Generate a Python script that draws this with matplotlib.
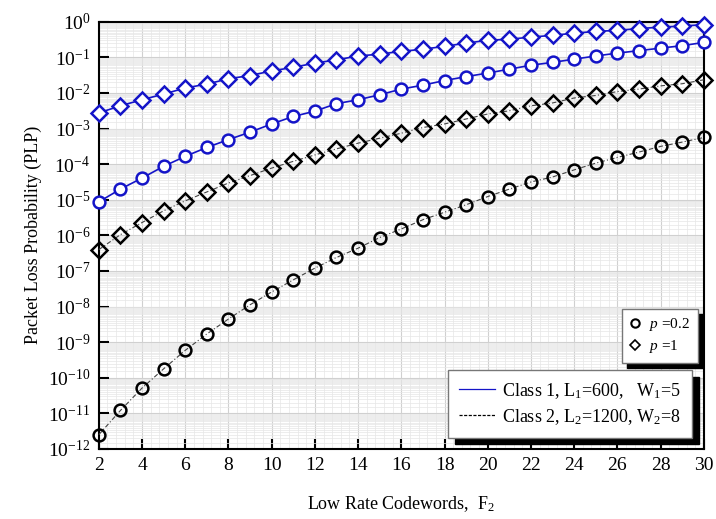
import matplotlib
matplotlib.use("Agg")
import matplotlib.pyplot as plt
from matplotlib.lines import Line2D
import numpy as np

plt.rcParams['font.family'] = ['Liberation Serif', 'DejaVu Serif']
plt.rcParams['mathtext.fontset'] = 'custom'
plt.rcParams['mathtext.rm'] = 'Liberation Serif'
plt.rcParams['mathtext.it'] = 'Liberation Serif:italic'
plt.rcParams['axes.unicode_minus'] = False

# low rate codewords F2
F2 = np.arange(2, 31)

# log10 of PLP
class1_p1 = [-2.56, -2.36, -2.19, -2.03, -1.86, -1.75, -1.60, -1.51, -1.38, -1.28,
             -1.16, -1.07, -0.96, -0.91, -0.83, -0.77, -0.69, -0.60, -0.52, -0.49,
             -0.43, -0.38, -0.32, -0.27, -0.24, -0.19, -0.15, -0.12, -0.08]
class1_p02 = [-5.06, -4.70, -4.39, -4.06, -3.78, -3.53, -3.31, -3.10, -2.87, -2.66,
              -2.51, -2.30, -2.19, -2.05, -1.89, -1.78, -1.65, -1.54, -1.44, -1.33,
              -1.22, -1.14, -1.05, -0.96, -0.88, -0.81, -0.74, -0.67, -0.58]
class2_p1 = [-6.40, -5.98, -5.64, -5.31, -5.03, -4.78, -4.53, -4.32, -4.11, -3.92,
             -3.74, -3.57, -3.41, -3.27, -3.13, -2.97, -2.87, -2.73, -2.59, -2.50,
             -2.36, -2.28, -2.14, -2.07, -1.96, -1.89, -1.80, -1.74, -1.63]
class2_p02 = [-11.60, -10.92, -10.29, -9.75, -9.23, -8.77, -8.35, -7.95, -7.59, -7.25,
              -6.92, -6.62, -6.36, -6.06, -5.82, -5.56, -5.35, -5.14, -4.91, -4.70,
              -4.50, -4.36, -4.16, -3.97, -3.81, -3.66, -3.50, -3.38, -3.25]

blue = '#1414c8'

fig = plt.figure(figsize=(7.16, 5.19), dpi=100)
ax = fig.add_axes([0.138, 0.135, 0.845, 0.823])

# class 1 (blue, solid)
ax.plot(F2, 10**np.array(class1_p1), '-', color=blue, lw=1.2, marker='D', ms=8,
        mfc='white', mec=blue, mew=1.8, clip_on=False, zorder=4)
ax.plot(F2, 10**np.array(class1_p02), '-', color=blue, lw=1.2, marker='o', ms=8.5,
        mfc='white', mec=blue, mew=1.8, clip_on=False, zorder=4)
# class 2 (black, dash-dot)
ax.plot(F2, 10**np.array(class2_p1), color='#444444', lw=0.8, ls=(0, (4, 2, 1, 2)),
        marker='D', ms=8, mfc='none', mec='black', mew=1.8, clip_on=False, zorder=4)
ax.plot(F2, 10**np.array(class2_p02), color='#444444', lw=0.8, ls=(0, (4, 2, 1, 2)),
        marker='o', ms=8.5, mfc='none', mec='black', mew=1.8, clip_on=False, zorder=4)

ax.set_yscale('log')
ax.set_xlim(2, 30)
ax.set_ylim(1e-12, 1e0)
ax.set_xticks(np.arange(2, 31, 2))
ax.set_yticks(10.0**np.arange(-12, 1))
ax.yaxis.set_minor_locator(matplotlib.ticker.LogLocator(base=10, subs=np.arange(1, 10, 0.5), numticks=100))
ax.yaxis.set_minor_formatter(matplotlib.ticker.NullFormatter())
ax.xaxis.set_minor_locator(matplotlib.ticker.MultipleLocator(0.4))

ax.grid(True, which='major', color='#d0d0d0', lw=0.8)
ax.grid(True, which='minor', color='#e6e6e6', lw=0.5)
ax.set_axisbelow(True)

ax.tick_params(which='major', direction='in', length=7, width=1.5, labelsize=14,
               top=False, right=False, pad=6)
ax.tick_params(which='minor', length=0)
for s in ax.spines.values():
    s.set_linewidth(1.5)

ax.set_xlabel('Low Rate Codewords,  F$_2$', fontsize=13, labelpad=14)
ax.set_ylabel('Packet Loss Probability (PLP)', fontsize=13, labelpad=4)

# legend for p values
h1 = [Line2D([], [], ls='none', marker='o', ms=6, mfc='none', mec='black', mew=1.5),
      Line2D([], [], ls='none', marker='D', ms=5, mfc='none', mec='black', mew=1.2)]
leg1 = ax.legend(h1, ['$p$ =0.2', '$p$ =1'], loc='upper left',
                 bbox_to_anchor=(0.864, 0.328), fontsize=11, frameon=True,
                 fancybox=False, edgecolor='#777777', framealpha=1,
                 shadow={'ox': 4, 'oy': -4, 'color': 'black', 'alpha': 1},
                 handlelength=0.8, handletextpad=0.5, borderpad=0.5, labelspacing=0.3,
                 borderaxespad=0)
ax.add_artist(leg1)

# legend for classes
h2 = [Line2D([], [], color=blue, lw=0.9),
      Line2D([], [], color='black', lw=0.9, ls=(0, (2.5, 1.2)))]
leg2 = ax.legend(h2, ['Class 1, L$_1$=600,   W$_1$=5', 'Class 2, L$_2$=1200, W$_2$=8'],
                 loc='upper left', bbox_to_anchor=(0.577, 0.185), fontsize=13,
                 frameon=True, fancybox=False, edgecolor='#777777', framealpha=1,
                 shadow={'ox': 5, 'oy': -5, 'color': 'black', 'alpha': 1},
                 handlelength=2.0, handletextpad=0.4, borderpad=0.6, labelspacing=0.35,
                 borderaxespad=0)

fig.savefig('out.png', dpi=100)
